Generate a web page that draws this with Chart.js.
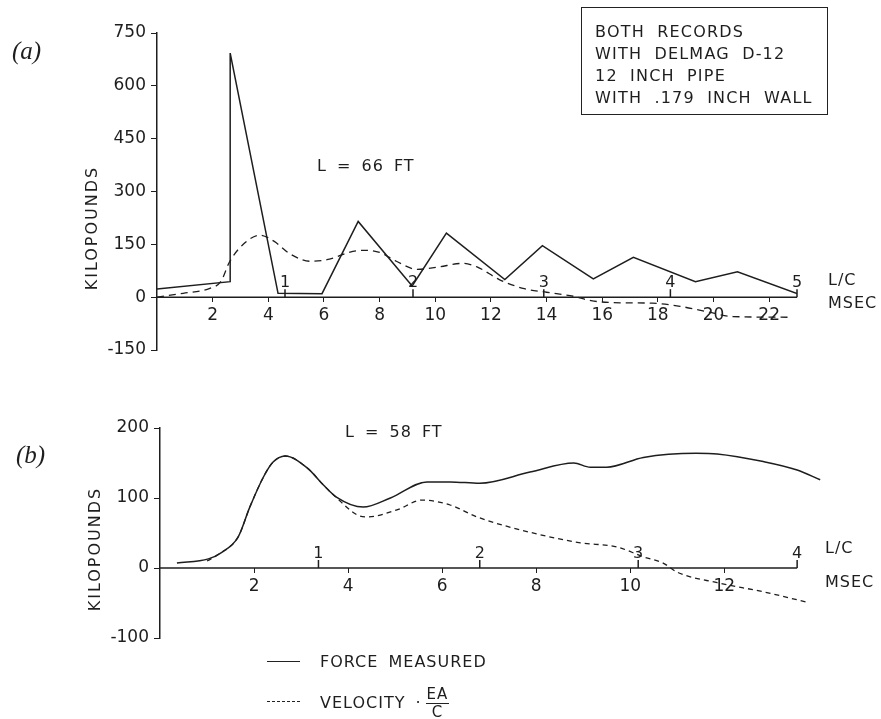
<!DOCTYPE html>
<html>
<head>
<meta charset="utf-8">
<script src="https://cdn.jsdelivr.net/npm/chart.js@4.4.1/dist/chart.umd.min.js"></script>
<style>
  body { margin: 0; background: #fff; }
  #page { position: relative; width: 881px; height: 719px; overflow: hidden; background: #fff;
          font-family: 'DejaVu Sans', sans-serif; color: #1e1e1e; }
  canvas { position: absolute; left: 0; }
  .t { position: absolute; white-space: nowrap; font-size: 16px; line-height: 16px;
       letter-spacing: 1px; word-spacing: 4px; }
  .panel { font-family: 'Liberation Serif', serif; font-style: italic; font-size: 25px; line-height: 25px; letter-spacing: 0; }
  .ytitle { transform: translate(-50%, -50%) rotate(-90deg); font-size: 16px; letter-spacing: 2px; }
  #note { position: absolute; left: 581px; top: 7px; width: 247px; height: 108px; border: 1px solid #222;
          padding: 13px 0 0 13px; box-sizing: border-box; font-size: 16px; line-height: 22px;
          letter-spacing: 1.2px; word-spacing: 6px; white-space: nowrap; }
  .sample { position: absolute; left: 267px; width: 33px; border-top: 1.5px solid #222; }
  .frac { display: inline-block; vertical-align: middle; text-align: center; font-size: 15px; line-height: 17px; margin-left: 4px; }
  .frac span { display: block; }
  .frac .num { border-bottom: 1.5px solid #222; padding: 0 1px; }
</style>
</head>
<body>
<div id="page">
  <canvas id="chartA" width="881" height="370" style="top:0"></canvas>
  <canvas id="chartB" width="881" height="300" style="top:380px"></canvas>

  <div class="t panel" style="left:12px; top:38px">(a)</div>
  <div class="t panel" style="left:16px; top:442px">(b)</div>

  <div class="t ytitle" style="left:92px; top:228px">KILOPOUNDS</div>
  <div class="t ytitle" style="left:95px; top:549px">KILOPOUNDS</div>

  <div class="t" style="left:317px; top:158px">L = 66 FT</div>
  <div class="t" style="left:345px; top:424px">L = 58 FT</div>

  <div id="note">BOTH RECORDS<br>WITH DELMAG D-12<br>12 INCH PIPE<br>WITH .179 INCH WALL</div>

  <div class="t" style="left:828px; top:272px">L/C</div>
  <div class="t" style="left:828px; top:295px">MSEC</div>
  <div class="t" style="left:825px; top:540px">L/C</div>
  <div class="t" style="left:825px; top:574px">MSEC</div>

  <div class="sample" style="top:661px"></div>
  <div class="t" style="left:320px; top:654px">FORCE MEASURED</div>
  <div class="sample" style="top:701px; border-top-style:dashed"></div>
  <div class="t" style="left:320px; top:686px">VELOCITY ·<span class="frac"><span class="num">EA</span><span>C</span></span></div>
</div>

<script>
// (a) L = 66 ft  -- time in msec, force in kips
const forceA_msec = [0, 2.63, 2.63, 4.35, 5.93, 7.23, 9.17, 10.4, 12.5, 13.85, 15.68, 17.12, 19.35, 20.86, 23.0];
const forceA_kips = [23, 44, 693, 11, 10, 215, 32, 182, 50, 146, 52, 113, 44, 72, 10];
const veloA_msec = [0, 0.94, 1.9, 2.3, 2.6, 3.1, 3.7, 4.2, 4.8, 5.5, 6.2, 6.9, 7.4, 8.0, 8.6, 9.35, 10.07, 11.0, 11.5, 12.3, 13.2, 14.0, 15.0, 15.6, 16.65, 17.8, 18.8, 19.8, 20.7, 22.7];
const veloA_kips = [0, 11, 25, 45, 99, 150, 176, 159, 122, 102, 108, 127, 133, 127, 102, 79, 85, 96, 86, 50, 24, 14, 2, -10, -16, -17, -26, -42, -55, -57];
const msecTicksA = [2, 4, 6, 8, 10, 12, 14, 16, 18, 20, 22];
const kipTicksA = [-150, 0, 150, 300, 450, 600, 750];
const lcLabelsA = ['1', '2', '3', '4', '5'];
const lcMsecA = [4.6, 9.2, 13.9, 18.45, 23.0];

// (b) L = 58 ft
const forceB_msec = [0.36, 1.03, 1.28, 1.66, 1.91, 2.2, 2.4, 2.66, 3.13, 3.47, 3.76, 4.32, 4.9, 5.68, 6.17, 6.8, 7.87, 8.8, 9.15, 9.5, 10.28, 11.4, 11.85, 12.83, 13.55, 14.04];
const forceB_kips = [7, 13, 21, 44, 87, 130, 151, 160, 143, 119, 101, 87, 100, 123, 123, 121, 137, 150, 144, 144, 158, 164, 163, 152, 140, 126];
const veloB_msec = [1.0, 1.28, 1.66, 1.91, 2.2, 2.4, 2.66, 3.13, 3.47, 3.76, 4.19, 4.4, 5.04, 5.57, 6.17, 6.74, 7.87, 8.94, 9.72, 10.28, 10.7, 11.0, 11.85, 12.83, 13.77];
const veloB_kips = [10, 21, 44, 87, 130, 151, 160, 143, 119, 100, 76, 73, 83, 97, 90, 73, 51, 36, 30, 16, 7, -6, -21, -34, -49];
const msecTicksB = [2, 4, 6, 8, 10, 12];
const kipTicksB = [-100, 0, 100, 200];
const lcLabelsB = ['1', '2', '3', '4'];
const lcMsecB = [3.37, 6.8, 10.17, 13.55];

const INK = '#1e1e1e';
const pts = (xs, ys) => xs.map((x, i) => ({ x: x, y: ys[i] }));

Chart.defaults.font.family = "'DejaVu Sans', sans-serif";
Chart.defaults.font.size = 16;
Chart.defaults.color = INK;

// zero axis line (ending at the last L/C mark) plus the L/C tick numbers above it
const lcMarks = {
    id: 'lcMarks',
    afterDatasetsDraw(chart, args, opts) {
        const { ctx, scales: { x, y } } = chart;
        const y0 = y.getPixelForValue(0);
        ctx.save();
        ctx.strokeStyle = INK;
        ctx.lineWidth = 1.5;
        ctx.beginPath();
        ctx.moveTo(x.getPixelForValue(0), y0);
        ctx.lineTo(x.getPixelForValue(opts.axisEnd), y0);
        ctx.stroke();

        ctx.font = "16px 'DejaVu Sans', sans-serif";
        ctx.fillStyle = INK;
        ctx.textAlign = 'center';
        ctx.textBaseline = 'bottom';
        opts.msec.forEach((m, i) => {
            const px = x.getPixelForValue(m);
            ctx.beginPath();
            ctx.moveTo(px, y0);
            ctx.lineTo(px, y0 - 8);
            ctx.stroke();
            ctx.fillText(opts.labels[i], px, y0 - 6);
        });
        ctx.restore();
    }
};

function makeChart(id, cfg) {
    const ctx = document.getElementById(id).getContext('2d');
    return new Chart(ctx, {
        type: 'line',
        data: {
            datasets: [{
                label: 'Force measured',
                data: cfg.force,
                borderColor: INK,
                borderWidth: 1.5,
                pointRadius: 0,
                tension: cfg.forceTension,
                cubicInterpolationMode: cfg.forceTension ? 'monotone' : 'default'
            }, {
                label: 'Velocity · EA/C',
                data: cfg.velo,
                borderColor: INK,
                borderWidth: 1.3,
                borderDash: cfg.dash,
                pointRadius: 0,
                cubicInterpolationMode: 'monotone'
            }]
        },
        options: {
            responsive: false,
            animation: false,
            layout: { padding: cfg.padding },
            plugins: {
                legend: { display: false },
                tooltip: { enabled: false },
                lcMarks: { msec: cfg.lcMsec, labels: cfg.lcLabels, axisEnd: cfg.axisEnd }
            },
            scales: {
                x: {
                    type: 'linear',
                    position: { y: 0 },
                    min: 0,
                    max: cfg.xMax,
                    afterBuildTicks: s => { s.ticks = cfg.xTicks.map(v => ({ value: v })); },
                    afterFit: s => { s.height = 0; },
                    border: { display: false },
                    grid: { drawOnChartArea: false, tickLength: 5, color: INK },
                    ticks: { padding: 3, maxRotation: 0, autoSkip: false, font: { size: 17 } }
                },
                y: {
                    min: cfg.yMin,
                    max: cfg.yMax,
                    afterBuildTicks: s => { s.ticks = cfg.yTicks.map(v => ({ value: v })); },
                    afterFit: s => { s.width = cfg.yWidth; },
                    border: { display: true, color: INK, width: 1.5 },
                    grid: { drawOnChartArea: false, tickLength: 6, color: INK },
                    ticks: { padding: 5, font: { size: 17 } }
                }
            }
        },
        plugins: [lcMarks]
    });
}

makeChart('chartA', {
    force: pts(forceA_msec, forceA_kips),
    velo: pts(veloA_msec, veloA_kips),
    forceTension: 0,
    dash: [7, 5],
    xMax: 23, xTicks: msecTicksA, axisEnd: 23,
    yMin: -150, yMax: 750, yTicks: kipTicksA,
    lcMsec: lcMsecA, lcLabels: lcLabelsA,
    yWidth: 157,
    padding: { left: 0, top: 33, right: 84, bottom: 20 }
});

makeChart('chartB', {
    force: pts(forceB_msec, forceB_kips),
    velo: pts(veloB_msec, veloB_kips),
    forceTension: 0.4,
    dash: [5, 4],
    xMax: 14.1, xTicks: msecTicksB, axisEnd: 13.55,
    yMin: -100, yMax: 200, yTicks: kipTicksB,
    lcMsec: lcMsecB, lcLabels: lcLabelsB,
    yWidth: 160,
    padding: { left: 0, top: 48, right: 58, bottom: 42 }
});
</script>
</body>
</html>
